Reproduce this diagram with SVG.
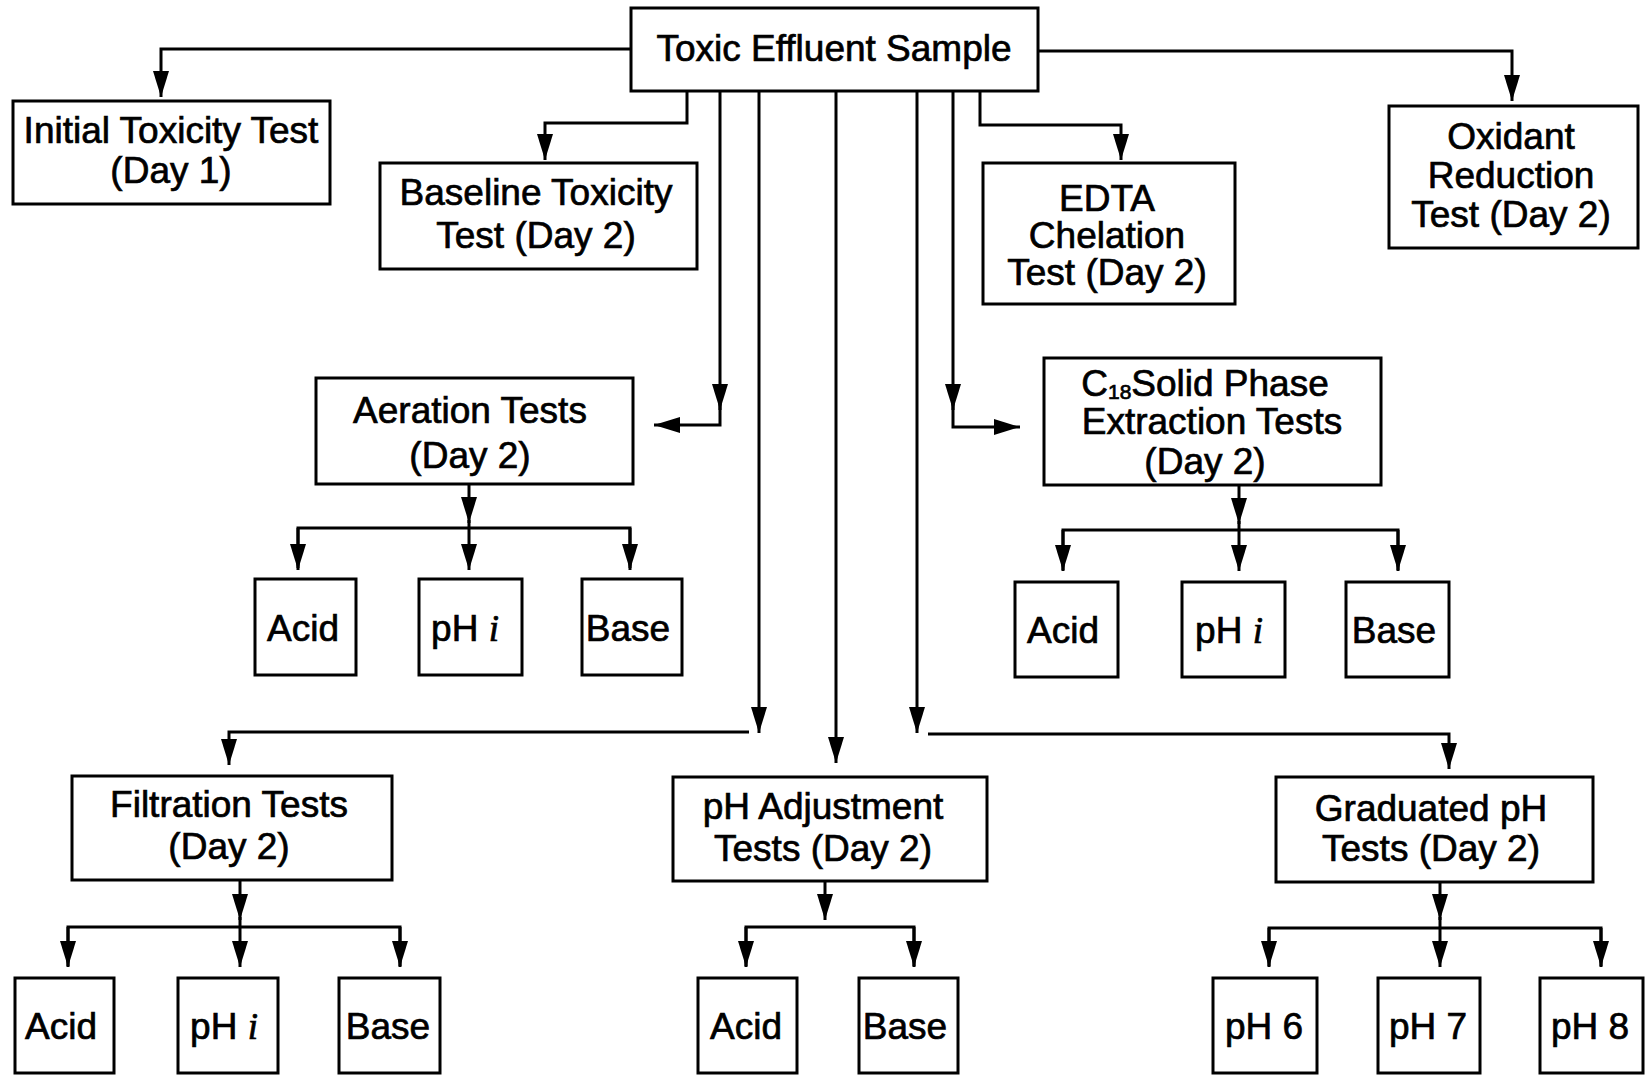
<svg xmlns="http://www.w3.org/2000/svg" width="1646" height="1075" viewBox="0 0 1646 1075">
<style>
.box{fill:#fff;stroke:#000;stroke-width:3}
.t{font-family:"Liberation Sans",Arial,sans-serif;font-size:37px;fill:#000;stroke:#000;stroke-width:0.7;text-anchor:middle}
.it{font-family:"Liberation Serif","Times New Roman",serif;font-style:italic}
.c{fill:none;stroke:#000;stroke-width:3;marker-end:url(#ah)}
.l{fill:none;stroke:#000;stroke-width:3}
</style>
<defs>
<marker id="ah" markerUnits="userSpaceOnUse" markerWidth="28" markerHeight="18" refX="26" refY="8" orient="auto">
<path d="M0,0 L26,8 L0,16 z" fill="#000"/>
</marker>
</defs>
<rect width="1646" height="1075" fill="#fff"/>

<g id="connectors">
<path class="c" d="M631,49 H161 V97"/>
<path class="c" d="M1038,51 H1512 V101"/>
<path class="c" d="M687,91 V123 H545 V160"/>
<path class="c" d="M980,91 V125 H1121 V160"/>
<path class="c" d="M720,91 V410"/>
<path class="c" d="M720,404 V425 H654"/>
<path class="c" d="M953,91 V410"/>
<path class="c" d="M953,404 V427 H1020"/>
<path class="c" d="M759,91 V733"/>
<path class="c" d="M749,732 H229 V765"/>
<path class="c" d="M836,91 V763"/>
<path class="c" d="M917,91 V733"/>
<path class="c" d="M928,734 H1449 V769"/>
<path class="c" d="M469,484 V523"/>
<path class="l" d="M298,568 V528 H630 V568"/>
<path class="c" d="M298,528 V570"/>
<path class="c" d="M469,520 V570"/>
<path class="c" d="M630,528 V570"/>
<path class="c" d="M1239,485 V524"/>
<path class="l" d="M1063,570 V530 H1398 V570"/>
<path class="c" d="M1063,530 V571"/>
<path class="c" d="M1239,521 V571"/>
<path class="c" d="M1398,530 V571"/>
<path class="c" d="M240,880 V920"/>
<path class="l" d="M68,966 V927 H400 V966"/>
<path class="c" d="M68,927 V967"/>
<path class="c" d="M240,917 V967"/>
<path class="c" d="M400,927 V967"/>
<path class="c" d="M825,881 V920"/>
<path class="l" d="M746,966 V927 H914 V966"/>
<path class="c" d="M746,927 V967"/>
<path class="c" d="M914,927 V967"/>
<path class="c" d="M1440,882 V920"/>
<path class="l" d="M1269,966 V928 H1601 V966"/>
<path class="c" d="M1269,928 V967"/>
<path class="c" d="M1440,917 V967"/>
<path class="c" d="M1601,928 V967"/>
</g>

<g id="sample">
<rect class="box" x="631" y="8" width="407" height="83"/>
<text class="t" x="834" y="61">Toxic Effluent Sample</text>
</g>
<g id="initial">
<rect class="box" x="13" y="101" width="317" height="103"/>
<text class="t" x="171" y="143">Initial Toxicity Test</text>
<text class="t" x="171" y="183">(Day 1)</text>
</g>
<g id="baseline">
<rect class="box" x="380" y="163" width="317" height="106"/>
<text class="t" x="536" y="205">Baseline Toxicity</text>
<text class="t" x="536" y="248">Test (Day 2)</text>
</g>
<g id="edta">
<rect class="box" x="983" y="163" width="252" height="141"/>
<text class="t" x="1107" y="211">EDTA</text>
<text class="t" x="1107" y="248">Chelation</text>
<text class="t" x="1107" y="285">Test (Day 2)</text>
</g>
<g id="oxidant">
<rect class="box" x="1389" y="106" width="249" height="142"/>
<text class="t" x="1511" y="149">Oxidant</text>
<text class="t" x="1511" y="188">Reduction</text>
<text class="t" x="1511" y="227">Test (Day 2)</text>
</g>
<g id="aeration">
<rect class="box" x="316" y="378" width="317" height="106"/>
<text class="t" x="470" y="423">Aeration Tests</text>
<text class="t" x="470" y="468">(Day 2)</text>
</g>
<g id="c18">
<rect class="box" x="1044" y="358" width="337" height="127"/>
<text class="t" x="1205" y="396">C<tspan font-size="21" dy="3">18</tspan><tspan dy="-3">Solid Phase</tspan></text>
<text class="t" x="1212" y="434">Extraction Tests</text>
<text class="t" x="1205" y="474">(Day 2)</text>
</g>
<g id="aer-acid"><rect class="box" x="255" y="579" width="101" height="96"/><text class="t" x="303" y="641">Acid</text></g>
<g id="aer-phi"><rect class="box" x="419" y="579" width="103" height="96"/><text class="t" x="465" y="641">pH <tspan class="it">i</tspan></text></g>
<g id="aer-base"><rect class="box" x="582" y="579" width="100" height="96"/><text class="t" x="628" y="641">Base</text></g>
<g id="c18-acid"><rect class="box" x="1015" y="582" width="103" height="95"/><text class="t" x="1063" y="643">Acid</text></g>
<g id="c18-phi"><rect class="box" x="1182" y="582" width="103" height="95"/><text class="t" x="1229" y="643">pH <tspan class="it">i</tspan></text></g>
<g id="c18-base"><rect class="box" x="1346" y="582" width="103" height="95"/><text class="t" x="1394" y="643">Base</text></g>
<g id="filtration">
<rect class="box" x="72" y="776" width="320" height="104"/>
<text class="t" x="229" y="817">Filtration Tests</text>
<text class="t" x="229" y="859">(Day 2)</text>
</g>
<g id="phadj">
<rect class="box" x="673" y="777" width="314" height="104"/>
<text class="t" x="823" y="819">pH Adjustment</text>
<text class="t" x="823" y="861">Tests (Day 2)</text>
</g>
<g id="graduated">
<rect class="box" x="1276" y="777" width="317" height="105"/>
<text class="t" x="1431" y="821">Graduated pH</text>
<text class="t" x="1431" y="861">Tests (Day 2)</text>
</g>
<g id="fil-acid"><rect class="box" x="15" y="978" width="99" height="95"/><text class="t" x="61" y="1039">Acid</text></g>
<g id="fil-phi"><rect class="box" x="178" y="978" width="100" height="95"/><text class="t" x="224" y="1039">pH <tspan class="it">i</tspan></text></g>
<g id="fil-base"><rect class="box" x="339" y="978" width="101" height="95"/><text class="t" x="388" y="1039">Base</text></g>
<g id="adj-acid"><rect class="box" x="698" y="978" width="99" height="95"/><text class="t" x="746" y="1039">Acid</text></g>
<g id="adj-base"><rect class="box" x="859" y="978" width="99" height="95"/><text class="t" x="905" y="1039">Base</text></g>
<g id="grad-6"><rect class="box" x="1213" y="978" width="104" height="95"/><text class="t" x="1264" y="1039">pH 6</text></g>
<g id="grad-7"><rect class="box" x="1378" y="978" width="102" height="95"/><text class="t" x="1428" y="1039">pH 7</text></g>
<g id="grad-8"><rect class="box" x="1540" y="978" width="103" height="95"/><text class="t" x="1590" y="1039">pH 8</text></g>
</svg>
